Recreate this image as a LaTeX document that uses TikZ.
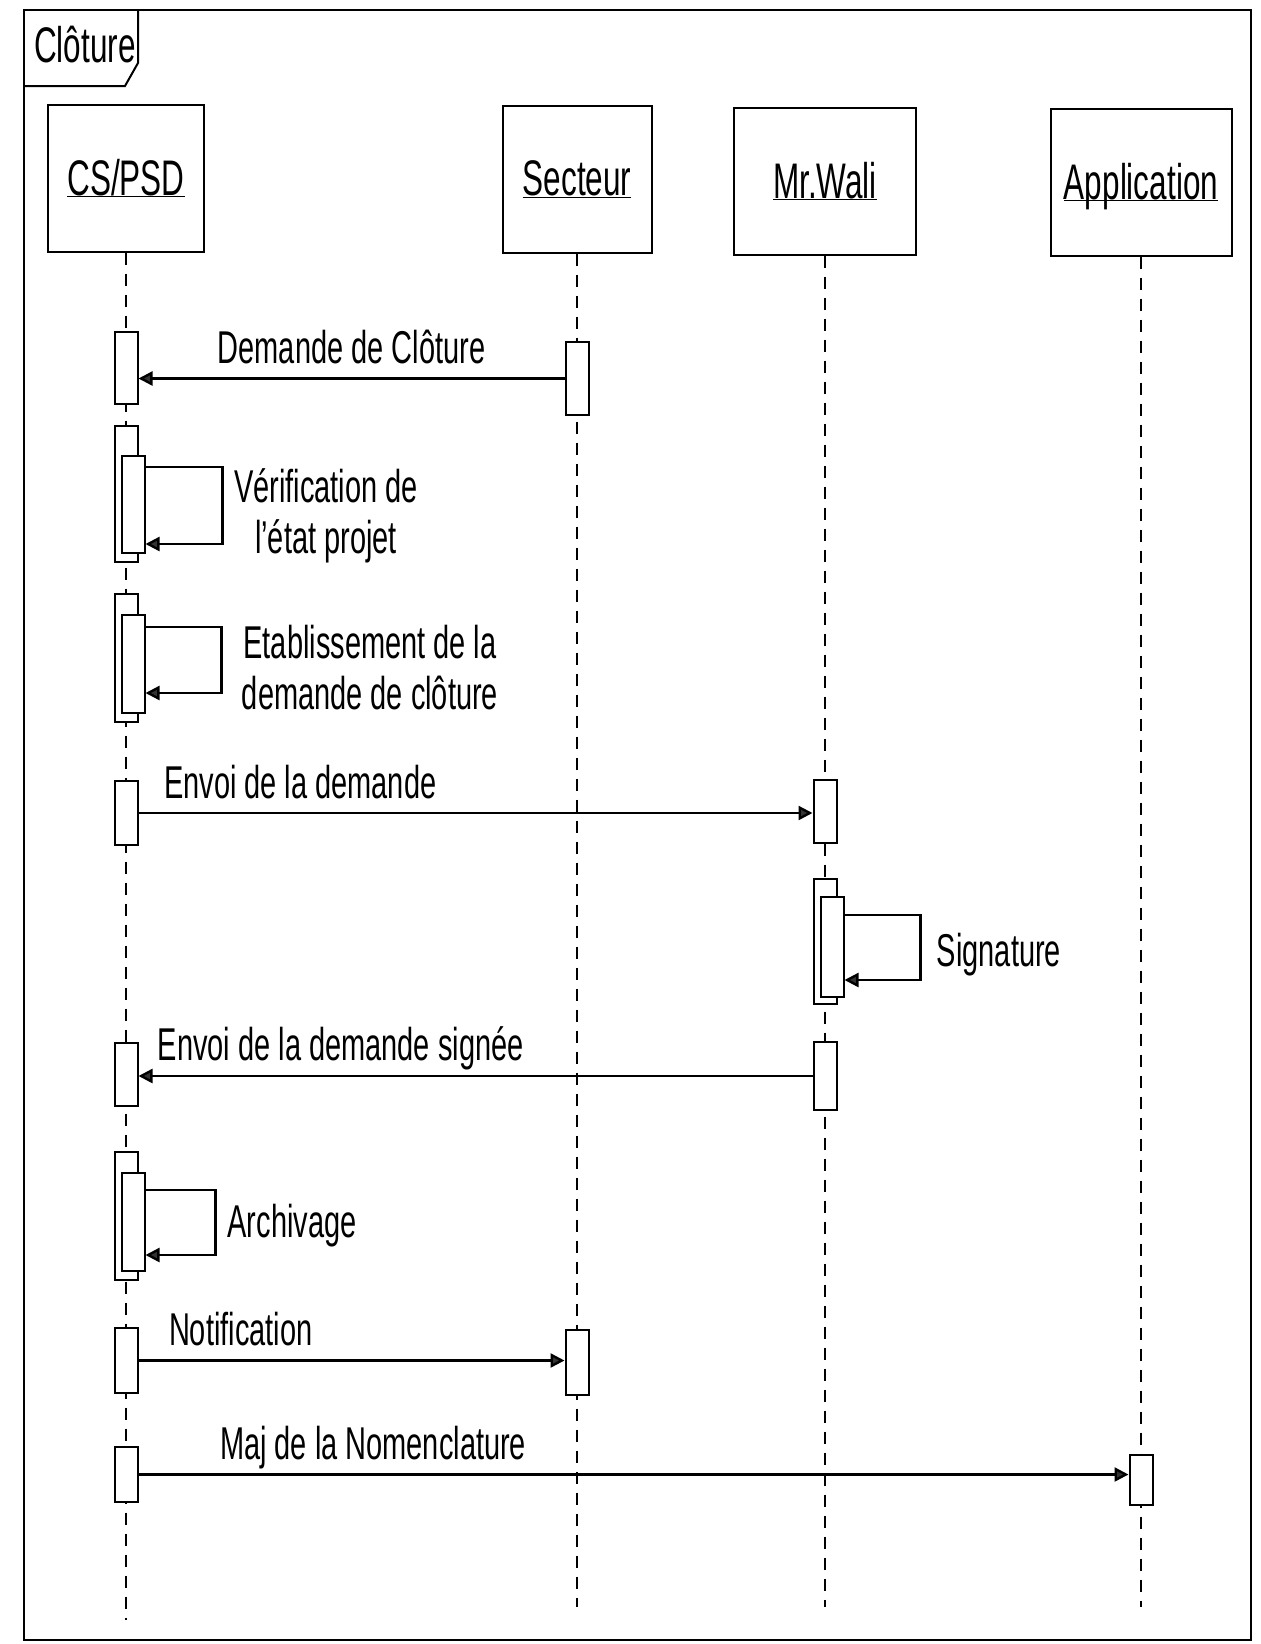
\documentclass[tikz,border=0pt]{standalone}
\usepackage{fix-cm}
\usepackage{fontspec}
\setmainfont[FakeStretch=0.63]{Liberation Sans}
\usetikzlibrary{arrows.meta,calc,positioning}
\newcommand\seqhead{\fontsize{50}{58}\selectfont}
\newcommand\seqlbl{\fontsize{46}{51}\selectfont}
\newcommand\lname[1]{\underline{\raisebox{0pt}[\height][0pt]{#1}}}

\begin{document}
\begin{tikzpicture}
		[x=1pt, y=-1pt, line width=2pt,
		every node/.style={inner sep=0pt},
		head/.style={draw, minimum height=147pt, font=\seqhead},
		act/.style={draw, fill=white, minimum width=23pt},
		life/.style={dash pattern=on 12pt off 9pt},
		msg/.style={-{Triangle[length=14pt, width=14pt, fill=black!80]}, line width=2.4pt},
		lbl/.style={font=\seqlbl, anchor=base, yshift=15pt},
		note/.style={font=\seqlbl, align=center}]
		\useasboundingbox (0,0) rectangle (1261,1644);
		\draw (24,10) rectangle (1251,1640);
		\draw (24,86) -- (125,86) -- (138,63) -- (138,10);
		\node[font=\seqhead] (title) at (85,45) {Clôture};
		
		\node[head, minimum width=156pt] (cs) at (126,178) {\lname{CS/PSD}};
		\node[head, minimum width=149pt] (sec) at (577,179) {\lname{Secteur}};
		\node[head, minimum width=182pt] (wali) at (825,181) {\lname{Mr.Wali}};
		\node[head, minimum width=181pt] (app) at (1141,182) {\lname{Application}};
		
		\coordinate (csend) at (126,1620);
		\coordinate (secend) at (577,1607);
		\coordinate (waliend) at (825,1607);
		\coordinate (append) at (1141,1607);
		\draw[life] (cs) -- (csend);
		\draw[life] (sec) -- (secend);
		\draw[life] (wali) -- (waliend);
		\draw[life] (app) -- (append);
		
		\node[act, minimum height=72pt] (cs1) at (126,368) {};
		\node[act, minimum height=73pt] (sec1) at (577,378.5) {};
		\node[act, minimum height=136pt] (cs2) at (126,494) {};
		\node[act, minimum height=97pt] (cs2b) at (133,504.5) {};
		\node[act, minimum height=128pt] (cs3) at (126,658) {};
		\node[act, minimum height=98pt] (cs3b) at (133,664) {};
		\node[act, minimum height=64pt] (cs4) at (126,813) {};
		\node[act, minimum height=63pt] (wali1) at (825,811.5) {};
		\node[act, minimum height=125pt] (wali2) at (825,941.5) {};
		\node[act, minimum height=100pt] (wali2b) at (832,947) {};
		\node[act, minimum height=68pt] (wali3) at (825,1076) {};
		\node[act, minimum height=63pt] (cs5) at (126,1074.5) {};
		\node[act, minimum height=128pt] (cs6) at (126,1216) {};
		\node[act, minimum height=98pt] (cs6b) at (133,1222) {};
		\node[act, minimum height=65pt] (cs7) at (126,1360.5) {};
		\node[act, minimum height=65pt] (sec2) at (577,1362.5) {};
		\node[act, minimum height=55pt] (cs8) at (126,1474.5) {};
		\node[act, minimum height=50pt] (app1) at (1141,1480) {};
		
		\draw[msg] (sec1.west) -- node[lbl] {Demande de Clôture} (sec1.west -| cs1.east);
		\draw[msg] ($(cs2b.north east)+(0,12)$) -- ++(77,0) |- ($(cs2b.south east)+(0,-10)$);
		\node[note] (verif) at (326,516) {Vérification de\\l'état projet};
		\draw[msg] ($(cs3b.north east)+(0,13)$) -- ++(76,0) |- ($(cs3b.south east)+(0,-21)$);
		\node[note] (etab) at (370,668) {Etablissement de la\\demande de clôture};
		\draw[msg] (cs4.east) -- node[lbl, pos=0.24] {Envoi de la demande} (cs4.east -| wali1.west);
		\draw[msg] ($(wali2b.north east)+(0,19)$) -- ++(76,0) |- ($(wali2b.south east)+(0,-18)$);
		\node[note] (sign) at (999,955) {Signature};
		\draw[msg] (wali3.west) -- node[lbl, pos=0.7, yshift=1pt] {Envoi de la demande signée} (wali3.west -| cs5.east);
		\draw[msg] ($(cs6b.north east)+(0,18)$) -- ++(70,0) |- ($(cs6b.south east)+(0,-17)$);
		\node[note] (arch) at (292,1226) {Archivage};
		\draw[msg] (cs7.east) -- node[lbl, pos=0.24] {Notification} (cs7.east -| sec2.west);
		\draw[msg] (cs8.east) -- node[lbl, pos=0.237] {Maj de la Nomenclature} (cs8.east -| app1.west);
		\end{tikzpicture}
\end{document}
